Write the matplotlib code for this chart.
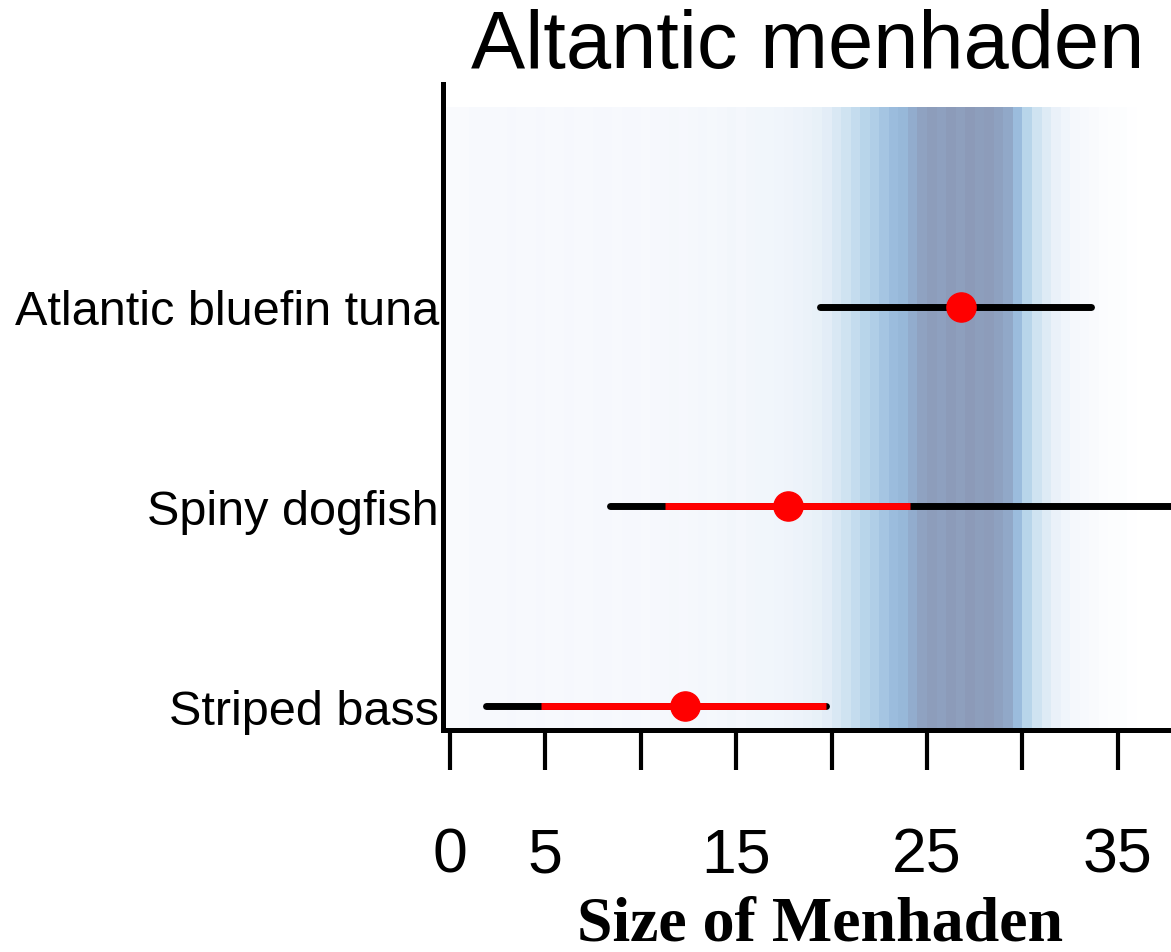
import numpy as np
import matplotlib
matplotlib.use("Agg")
import matplotlib.pyplot as plt
from matplotlib.colors import LinearSegmentedColormap

# predators, bottom to top
PREDATORS = ["Striped bass", "Spiny dogfish", "Atlantic bluefin tuna"]
# full size range eaten (black) and central range (red, None = no central band)
RANGE_LO = [1.9, 8.4, 19.4]
RANGE_HI = [19.7, 40.0, 33.6]
CORE_LO = [4.8, 11.3, None]
CORE_HI = [19.7, 24.1, None]
MEAN_SIZE = [12.3, 17.7, 26.8]

# menhaden size availability, 0.5-unit bins starting at -0.5
AVAIL_START = -0.5
AVAIL_STEP = 0.5
AVAILABILITY = [
    0.03, 0.04, 0.04, 0.05, 0.05, 0.05, 0.05, 0.06, 0.05, 0.05,
    0.06, 0.05, 0.05, 0.06, 0.05, 0.05, 0.06, 0.06, 0.05, 0.06,
    0.06, 0.05, 0.06, 0.06, 0.07, 0.06, 0.07, 0.08, 0.07, 0.08,
    0.09, 0.08, 0.09, 0.10, 0.10, 0.11, 0.12, 0.13, 0.15, 0.17,
    0.21, 0.27, 0.34, 0.42, 0.50, 0.55, 0.62, 0.68, 0.72, 0.82,
    0.92, 0.97, 0.94, 0.99, 0.95, 1.00, 0.96, 0.98, 0.93, 0.86,
    0.68, 0.50, 0.34, 0.24, 0.16, 0.11, 0.07, 0.05, 0.04, 0.03,
    0.02, 0.02, 0.01, 0.0, 0.0, 0.0,
]

X_TICKS = [0, 5, 10, 15, 20, 25, 30, 35]
X_TICK_LABELS = ["0", "5", "", "15", "", "25", "", "35"]

shade_cmap = LinearSegmentedColormap.from_list(
    "menhaden",
    [(0.0, "#FFFFFF"), (0.05, "#F7F9FD"), (0.15, "#EBF2F9"), (0.3, "#D5E6F3"),
     (0.5, "#B8D5EA"), (0.7, "#98BADC"), (0.85, "#91A9C9"), (1.0, "#8C9AB8")],
)

fig = plt.figure(figsize=(11.71, 9.53), dpi=100)
ax = fig.add_axes([0.3783, 0.2329, 0.6217, 0.6779])

edges = AVAIL_START + AVAIL_STEP * np.arange(len(AVAILABILITY) + 1)
ax.pcolormesh(edges, [0.5, 4.0], np.array([AVAILABILITY]), cmap=shade_cmap,
              vmin=0, vmax=1, shading="flat", zorder=0)

rows = np.arange(1, len(PREDATORS) + 1)
for y, lo, hi, clo, chi, m in zip(rows, RANGE_LO, RANGE_HI, CORE_LO, CORE_HI, MEAN_SIZE):
    ax.plot([lo, hi], [y, y], color="black", lw=5, solid_capstyle="round", zorder=2)
    if clo is not None:
        ax.plot([clo, chi], [y, y], color="#FF0000", lw=5, solid_capstyle="butt", zorder=3)
    ax.plot([m], [y], "o", color="#FF0000", markersize=21, zorder=4)

ax.set_xlim(-0.35, 37.78)
ax.set_ylim(0.88, 4.115)

for side in ("top", "right"):
    ax.spines[side].set_visible(False)
for side in ("left", "bottom"):
    ax.spines[side].set_linewidth(3.6)
    ax.spines[side].set_zorder(5)

ax.set_xticks(X_TICKS)
ax.set_xticklabels(X_TICK_LABELS, fontsize=45, family="Liberation Sans")
ax.tick_params(axis="x", length=29, width=3, pad=40, direction="out")

ax.set_yticks(rows)
ax.set_yticklabels(PREDATORS, fontsize=35, family="Liberation Sans", va="center_baseline")
ax.tick_params(axis="y", length=0, pad=3)

fig.text(0.690, 0.9287, "Altantic menhaden", fontsize=58.5, family="Liberation Sans",
         ha="center", va="baseline")
fig.text(0.700, 0.013, "Size of Menhaden", fontsize=46, family="Liberation Serif",
         fontweight="bold", ha="center", va="baseline")

fig.savefig("out.png", dpi=100)
